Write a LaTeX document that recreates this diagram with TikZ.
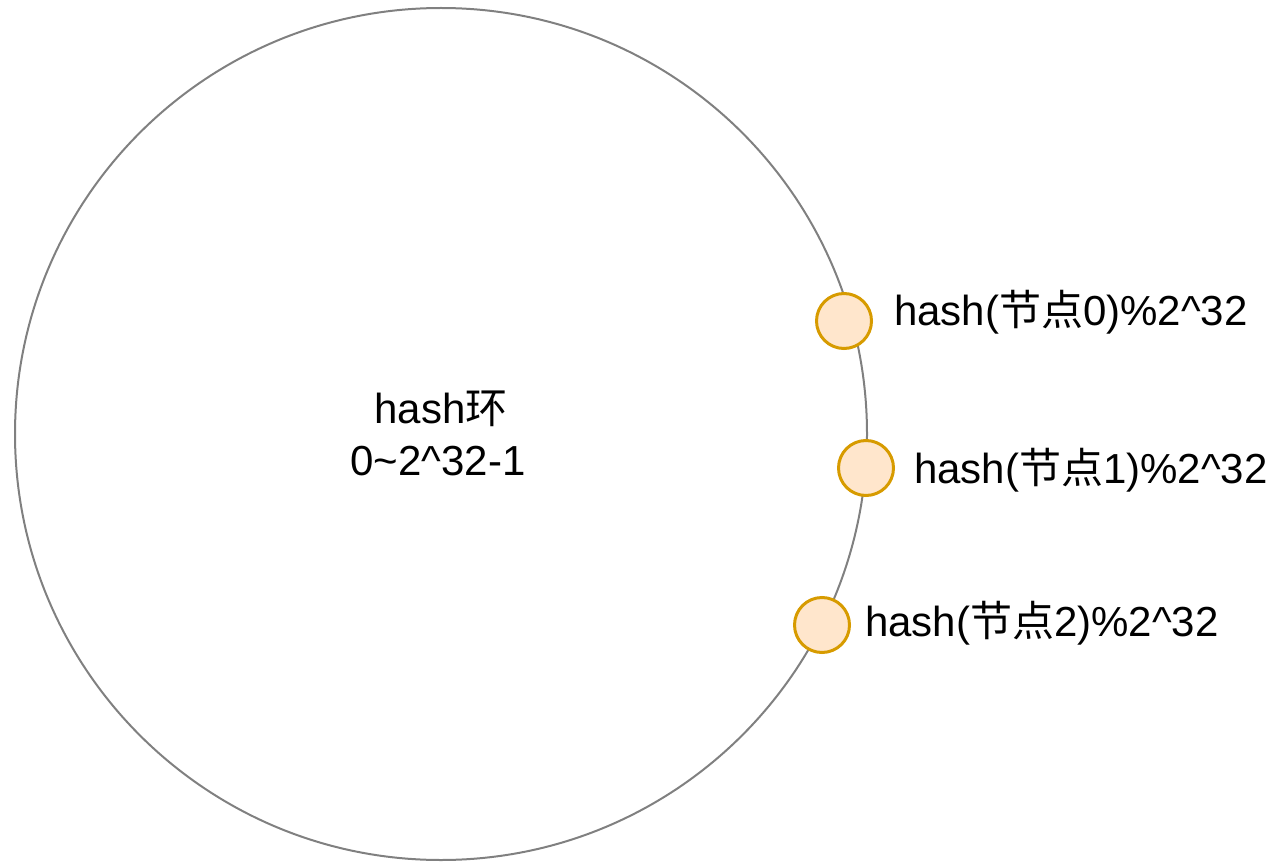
\documentclass[tikz,border=0pt]{standalone}
\usepackage{fontspec}
\setmainfont{Liberation Sans}
\newfontfamily\cjk{Noto Sans CJK SC}
\usetikzlibrary{positioning}
\definecolor{ringgray}{HTML}{808080}
\definecolor{nodefill}{HTML}{FFE6CC}
\definecolor{nodedraw}{HTML}{D79B00}

\begin{document}
\begin{tikzpicture}[x=0.75pt,y=-0.75pt,line width=1.5pt]
\useasboundingbox (0,0) rectangle (1280,866);

   \tikzstyle{ring}=[draw=ringgray,circle,minimum size=639pt,inner sep=0pt]
   \tikzstyle{hashnode}=[draw=nodedraw,fill=nodefill,circle,minimum size=41.25pt,inner sep=0pt,line width=2.25pt]
   \tikzstyle{lbl}=[inner sep=0pt,anchor=base west,font=\fontsize{31.5}{38}\selectfont]

  \node[ring] (hring) at (441,434) {};
  \node[lbl,anchor=base] (title) at (441,423) {hash{\cjk 环}};
  \node[lbl,anchor=base] (range) at (438,475) {0\char`\~2\char`\^32-1};

  \node[hashnode] (n0) at (844,321) {};
  \node[hashnode] (n1) at (866,468) {};
  \node[hashnode] (n2) at (822,625) {};

  \node[lbl] (l0) at (893,325) {hash({\cjk 节点}0)\%2\char`\^32};
  \node[lbl] (l1) at (913,483) {hash({\cjk 节点}1)\%2\char`\^32};
  \node[lbl] (l2) at (864,636) {hash({\cjk 节点}2)\%2\char`\^32};

\end{tikzpicture}
\end{document}
